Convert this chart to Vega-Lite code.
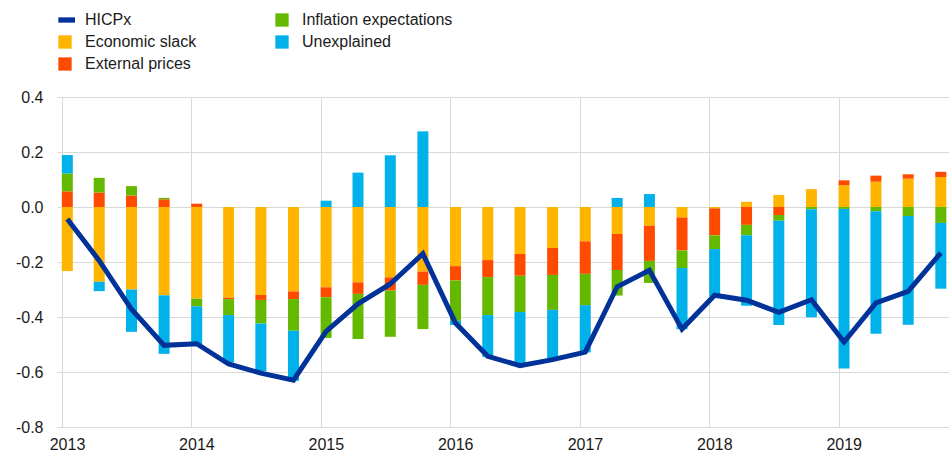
{
  "$schema": "https://vega.github.io/schema/vega-lite/v6.json",
  "width": 892,
  "height": 330,
  "autosize": {"type": "none"},
  "padding": {"left": 57, "top": 97, "right": 0, "bottom": 25},
  "background": "white",
  "config": {
    "font": "Liberation Sans",
    "view": {"stroke": null},
    "axis": {
      "domain": false,
      "ticks": false,
      "gridColor": "#d9d9d9",
      "gridWidth": 1,
      "labelFont": "Liberation Sans",
      "labelFontSize": 16,
      "labelColor": "#1a1a1a",
      "title": null
    }
  },
  "datasets": {
    "components": [
      {"date": "2013-01-16", "component": "Economic slack", "value": -0.233},
      {"date": "2013-01-16", "component": "External prices", "value": 0.057},
      {"date": "2013-01-16", "component": "Inflation expectations", "value": 0.065},
      {"date": "2013-01-16", "component": "Unexplained", "value": 0.067},
      {"date": "2013-04-16", "component": "Economic slack", "value": -0.272},
      {"date": "2013-04-16", "component": "External prices", "value": 0.053},
      {"date": "2013-04-16", "component": "Inflation expectations", "value": 0.053},
      {"date": "2013-04-16", "component": "Unexplained", "value": -0.034},
      {"date": "2013-07-16", "component": "Economic slack", "value": -0.300},
      {"date": "2013-07-16", "component": "External prices", "value": 0.042},
      {"date": "2013-07-16", "component": "Inflation expectations", "value": 0.034},
      {"date": "2013-07-16", "component": "Unexplained", "value": -0.154},
      {"date": "2013-10-16", "component": "Economic slack", "value": -0.321},
      {"date": "2013-10-16", "component": "External prices", "value": 0.028},
      {"date": "2013-10-16", "component": "Inflation expectations", "value": 0.005},
      {"date": "2013-10-16", "component": "Unexplained", "value": -0.213},
      {"date": "2014-01-16", "component": "Economic slack", "value": -0.333},
      {"date": "2014-01-16", "component": "External prices", "value": 0.012},
      {"date": "2014-01-16", "component": "Inflation expectations", "value": -0.028},
      {"date": "2014-01-16", "component": "Unexplained", "value": -0.139},
      {"date": "2014-04-16", "component": "Economic slack", "value": -0.330},
      {"date": "2014-04-16", "component": "External prices", "value": -0.005},
      {"date": "2014-04-16", "component": "Inflation expectations", "value": -0.058},
      {"date": "2014-04-16", "component": "Unexplained", "value": -0.172},
      {"date": "2014-07-16", "component": "Economic slack", "value": -0.320},
      {"date": "2014-07-16", "component": "External prices", "value": -0.018},
      {"date": "2014-07-16", "component": "Inflation expectations", "value": -0.086},
      {"date": "2014-07-16", "component": "Unexplained", "value": -0.173},
      {"date": "2014-10-16", "component": "Economic slack", "value": -0.307},
      {"date": "2014-10-16", "component": "External prices", "value": -0.028},
      {"date": "2014-10-16", "component": "Inflation expectations", "value": -0.115},
      {"date": "2014-10-16", "component": "Unexplained", "value": -0.182},
      {"date": "2015-01-16", "component": "Economic slack", "value": -0.292},
      {"date": "2015-01-16", "component": "External prices", "value": -0.036},
      {"date": "2015-01-16", "component": "Inflation expectations", "value": -0.148},
      {"date": "2015-01-16", "component": "Unexplained", "value": 0.023},
      {"date": "2015-04-16", "component": "Economic slack", "value": -0.274},
      {"date": "2015-04-16", "component": "External prices", "value": -0.042},
      {"date": "2015-04-16", "component": "Inflation expectations", "value": -0.164},
      {"date": "2015-04-16", "component": "Unexplained", "value": 0.125},
      {"date": "2015-07-16", "component": "Economic slack", "value": -0.256},
      {"date": "2015-07-16", "component": "External prices", "value": -0.048},
      {"date": "2015-07-16", "component": "Inflation expectations", "value": -0.168},
      {"date": "2015-07-16", "component": "Unexplained", "value": 0.188},
      {"date": "2015-10-16", "component": "Economic slack", "value": -0.235},
      {"date": "2015-10-16", "component": "External prices", "value": -0.048},
      {"date": "2015-10-16", "component": "Inflation expectations", "value": -0.161},
      {"date": "2015-10-16", "component": "Unexplained", "value": 0.275},
      {"date": "2016-01-16", "component": "Economic slack", "value": -0.215},
      {"date": "2016-01-16", "component": "External prices", "value": -0.052},
      {"date": "2016-01-16", "component": "Inflation expectations", "value": -0.147},
      {"date": "2016-01-16", "component": "Unexplained", "value": -0.015},
      {"date": "2016-04-16", "component": "Economic slack", "value": -0.193},
      {"date": "2016-04-16", "component": "External prices", "value": -0.062},
      {"date": "2016-04-16", "component": "Inflation expectations", "value": -0.138},
      {"date": "2016-04-16", "component": "Unexplained", "value": -0.152},
      {"date": "2016-07-16", "component": "Economic slack", "value": -0.171},
      {"date": "2016-07-16", "component": "External prices", "value": -0.079},
      {"date": "2016-07-16", "component": "Inflation expectations", "value": -0.132},
      {"date": "2016-07-16", "component": "Unexplained", "value": -0.188},
      {"date": "2016-10-16", "component": "Economic slack", "value": -0.149},
      {"date": "2016-10-16", "component": "External prices", "value": -0.098},
      {"date": "2016-10-16", "component": "Inflation expectations", "value": -0.127},
      {"date": "2016-10-16", "component": "Unexplained", "value": -0.175},
      {"date": "2017-01-16", "component": "Economic slack", "value": -0.125},
      {"date": "2017-01-16", "component": "External prices", "value": -0.118},
      {"date": "2017-01-16", "component": "Inflation expectations", "value": -0.114},
      {"date": "2017-01-16", "component": "Unexplained", "value": -0.172},
      {"date": "2017-04-16", "component": "Economic slack", "value": -0.098},
      {"date": "2017-04-16", "component": "External prices", "value": -0.131},
      {"date": "2017-04-16", "component": "Inflation expectations", "value": -0.093},
      {"date": "2017-04-16", "component": "Unexplained", "value": 0.033},
      {"date": "2017-07-16", "component": "Economic slack", "value": -0.068},
      {"date": "2017-07-16", "component": "External prices", "value": -0.128},
      {"date": "2017-07-16", "component": "Inflation expectations", "value": -0.080},
      {"date": "2017-07-16", "component": "Unexplained", "value": 0.047},
      {"date": "2017-10-16", "component": "Economic slack", "value": -0.038},
      {"date": "2017-10-16", "component": "External prices", "value": -0.120},
      {"date": "2017-10-16", "component": "Inflation expectations", "value": -0.064},
      {"date": "2017-10-16", "component": "Unexplained", "value": -0.222},
      {"date": "2018-01-16", "component": "Economic slack", "value": -0.005},
      {"date": "2018-01-16", "component": "External prices", "value": -0.098},
      {"date": "2018-01-16", "component": "Inflation expectations", "value": -0.050},
      {"date": "2018-01-16", "component": "Unexplained", "value": -0.171},
      {"date": "2018-04-16", "component": "Economic slack", "value": 0.019},
      {"date": "2018-04-16", "component": "External prices", "value": -0.065},
      {"date": "2018-04-16", "component": "Inflation expectations", "value": -0.038},
      {"date": "2018-04-16", "component": "Unexplained", "value": -0.256},
      {"date": "2018-07-16", "component": "Economic slack", "value": 0.044},
      {"date": "2018-07-16", "component": "External prices", "value": -0.029},
      {"date": "2018-07-16", "component": "Inflation expectations", "value": -0.021},
      {"date": "2018-07-16", "component": "Unexplained", "value": -0.379},
      {"date": "2018-10-16", "component": "Economic slack", "value": 0.065},
      {"date": "2018-10-16", "component": "External prices", "value": 0.0},
      {"date": "2018-10-16", "component": "Inflation expectations", "value": -0.008},
      {"date": "2018-10-16", "component": "Unexplained", "value": -0.393},
      {"date": "2019-01-16", "component": "Economic slack", "value": 0.079},
      {"date": "2019-01-16", "component": "External prices", "value": 0.018},
      {"date": "2019-01-16", "component": "Inflation expectations", "value": -0.007},
      {"date": "2019-01-16", "component": "Unexplained", "value": -0.580},
      {"date": "2019-04-16", "component": "Economic slack", "value": 0.092},
      {"date": "2019-04-16", "component": "External prices", "value": 0.022},
      {"date": "2019-04-16", "component": "Inflation expectations", "value": -0.015},
      {"date": "2019-04-16", "component": "Unexplained", "value": -0.446},
      {"date": "2019-07-16", "component": "Economic slack", "value": 0.103},
      {"date": "2019-07-16", "component": "External prices", "value": 0.016},
      {"date": "2019-07-16", "component": "Inflation expectations", "value": -0.033},
      {"date": "2019-07-16", "component": "Unexplained", "value": -0.395},
      {"date": "2019-10-16", "component": "Economic slack", "value": 0.109},
      {"date": "2019-10-16", "component": "External prices", "value": 0.019},
      {"date": "2019-10-16", "component": "Inflation expectations", "value": -0.058},
      {"date": "2019-10-16", "component": "Unexplained", "value": -0.239}
    ],
    "hicp": [
      {"date": "2013-01-16", "value": -0.044},
      {"date": "2013-04-16", "value": -0.195},
      {"date": "2013-07-16", "value": -0.372},
      {"date": "2013-10-16", "value": -0.503},
      {"date": "2014-01-16", "value": -0.497},
      {"date": "2014-04-16", "value": -0.571},
      {"date": "2014-07-16", "value": -0.604},
      {"date": "2014-10-16", "value": -0.630},
      {"date": "2015-01-16", "value": -0.452},
      {"date": "2015-04-16", "value": -0.352},
      {"date": "2015-07-16", "value": -0.280},
      {"date": "2015-10-16", "value": -0.170},
      {"date": "2016-01-16", "value": -0.422},
      {"date": "2016-04-16", "value": -0.543},
      {"date": "2016-07-16", "value": -0.577},
      {"date": "2016-10-16", "value": -0.555},
      {"date": "2017-01-16", "value": -0.528},
      {"date": "2017-04-16", "value": -0.290},
      {"date": "2017-07-16", "value": -0.230},
      {"date": "2017-10-16", "value": -0.444},
      {"date": "2018-01-16", "value": -0.321},
      {"date": "2018-04-16", "value": -0.339},
      {"date": "2018-07-16", "value": -0.383},
      {"date": "2018-10-16", "value": -0.337},
      {"date": "2019-01-16", "value": -0.491},
      {"date": "2019-04-16", "value": -0.349},
      {"date": "2019-07-16", "value": -0.307},
      {"date": "2019-10-16", "value": -0.167}
    ]
  },
  "layer": [
    {
      "data": {"name": "components"},
      "mark": {"type": "bar", "width": 11},
      "encoding": {
        "x": {
          "field": "date",
          "type": "temporal",
          "scale": {
            "type": "utc",
            "domain": [
              {"year": 2013, "month": 1, "date": 1, "utc": true},
              {"year": 2019, "month": 10, "date": 25, "utc": true}
            ]
          },
          "axis": {
            "format": "%Y",
            "tickCount": {"interval": "year", "step": 1},
            "labelOffset": 5,
            "labelPadding": 9,
            "grid": true,
            "title": null
          }
        },
        "y": {
          "field": "value",
          "type": "quantitative",
          "stack": "zero",
          "scale": {"domain": [-0.8, 0.4], "nice": false, "zero": false},
          "axis": {
            "values": [-0.8, -0.6, -0.4, -0.2, 0, 0.2, 0.4],
            "labelExpr": "replace(format(datum.value, '.1f'), '\u2212', '-')",
            "labelPadding": 14,
            "grid": true,
            "title": null
          }
        },
        "color": {
          "field": "component",
          "type": "nominal",
          "scale": {
            "domain": ["HICPx", "Economic slack", "External prices", "Inflation expectations", "Unexplained"],
            "range": ["#003299", "#FFB400", "#FF4B00", "#65B800", "#00B1EA"]
          },
          "legend": {
            "orient": "none",
            "legendX": 0,
            "legendY": -85,
            "columns": 2,
            "title": null,
            "symbolType": "square",
            "symbolSize": 177,
            "symbolStrokeWidth": 0,
            "labelFont": "Liberation Sans",
            "labelFontSize": 16,
            "labelColor": "#1a1a1a",
            "labelOffset": 12,
            "labelLimit": 300,
            "columnPadding": 77,
            "rowPadding": 6,
            "encode": {
              "symbols": {
                "update": {
                  "shape": {"signal": "datum.label === 'HICPx' ? 'M-1,-0.4H1.5V0.4H-1Z' : 'square'"}
                }
              }
            }
          }
        },
        "order": {"field": "component", "sort": "ascending"}
      }
    },
    {
      "data": {"name": "hicp"},
      "mark": {"type": "line", "color": "#003299", "strokeWidth": 5},
      "encoding": {
        "x": {"field": "date", "type": "temporal"},
        "y": {"field": "value", "type": "quantitative"}
      }
    }
  ]
}
